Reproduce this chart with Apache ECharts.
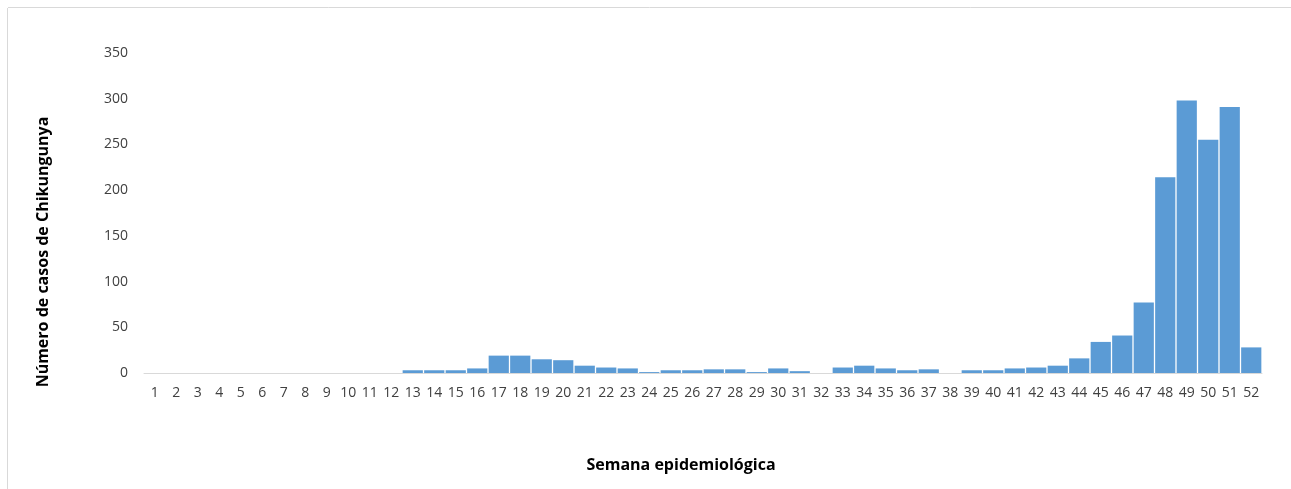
<!DOCTYPE html>
<html>
<head>
<meta charset="utf-8">
<script src="https://cdn.jsdelivr.net/npm/echarts@6/dist/echarts.min.js"></script>
<style>
  html, body { margin: 0; padding: 0; background: #fff; }
  #chart { width: 1291px; height: 489px; }
</style>
</head>
<body>
<div id="chart"></div>
<script>
  // semanas epidemiológicas 1..52
  var semanas = [];
  for (var i = 1; i <= 52; i++) semanas.push(String(i));

  // casos de Chikungunya por semana
  var casos = [
    0, 0, 0, 0, 0, 0, 0, 0, 0, 0, 0, 0,
    3, 3, 3, 5, 19, 19, 15, 14, 8, 6, 5, 1,
    3, 3, 4, 4, 1, 5, 2, 0, 6, 8, 5, 3,
    4, 0, 3, 3, 5, 6, 8, 16, 34, 41, 77, 214,
    298, 255, 291, 28
  ];

  var yTicks = [0, 50, 100, 150, 200, 250, 300, 350];

  var chart = echarts.init(document.getElementById('chart'));
  var option = {
    animation: false,
    backgroundColor: '#fff',
    textStyle: { fontFamily: 'Open Sans' },
    grid: { left: 144, right: 29, top: 53, bottom: 116 },
    graphic: [
      { type: 'line', shape: { x1: 8, y1: 7.5, x2: 1291, y2: 7.5 }, style: { stroke: '#d9d9d9', lineWidth: 1 } },
      { type: 'line', shape: { x1: 7.5, y1: 8, x2: 7.5, y2: 489 }, style: { stroke: '#d9d9d9', lineWidth: 1 } },
      {
        type: 'text', x: 681, y: 465,
        style: {
          text: 'Semana epidemiológica', fontFamily: 'Open Sans', fontSize: 16, fontWeight: 'bold',
          fill: '#000', align: 'center', verticalAlign: 'middle'
        }
      },
      {
        type: 'text', x: 43, y: 252, rotation: Math.PI / 2,
        style: {
          text: 'Número de casos de Chikungunya', fontFamily: 'Open Sans', fontSize: 16, fontWeight: 'bold',
          fill: '#000', align: 'center', verticalAlign: 'middle'
        }
      }
    ],
    xAxis: {
      type: 'category',
      data: semanas,
      axisLine: { lineStyle: { color: '#d9d9d9', width: 1 } },
      axisTick: { show: false },
      axisLabel: { color: '#404040', fontSize: 14, interval: 0, margin: 13 }
    },
    yAxis: {
      type: 'value',
      min: yTicks[0],
      max: yTicks[yTicks.length - 1],
      interval: 50,
      axisLine: { show: false },
      axisTick: { show: false },
      splitLine: { show: false },
      axisLabel: { color: '#404040', fontSize: 14, margin: 16 }
    },
    series: [{
      type: 'bar',
      data: casos,
      barCategoryGap: '6%',
      itemStyle: { color: '#5b9bd5' }
    }]
  };
  chart.setOption(option);
</script>
</body>
</html>
